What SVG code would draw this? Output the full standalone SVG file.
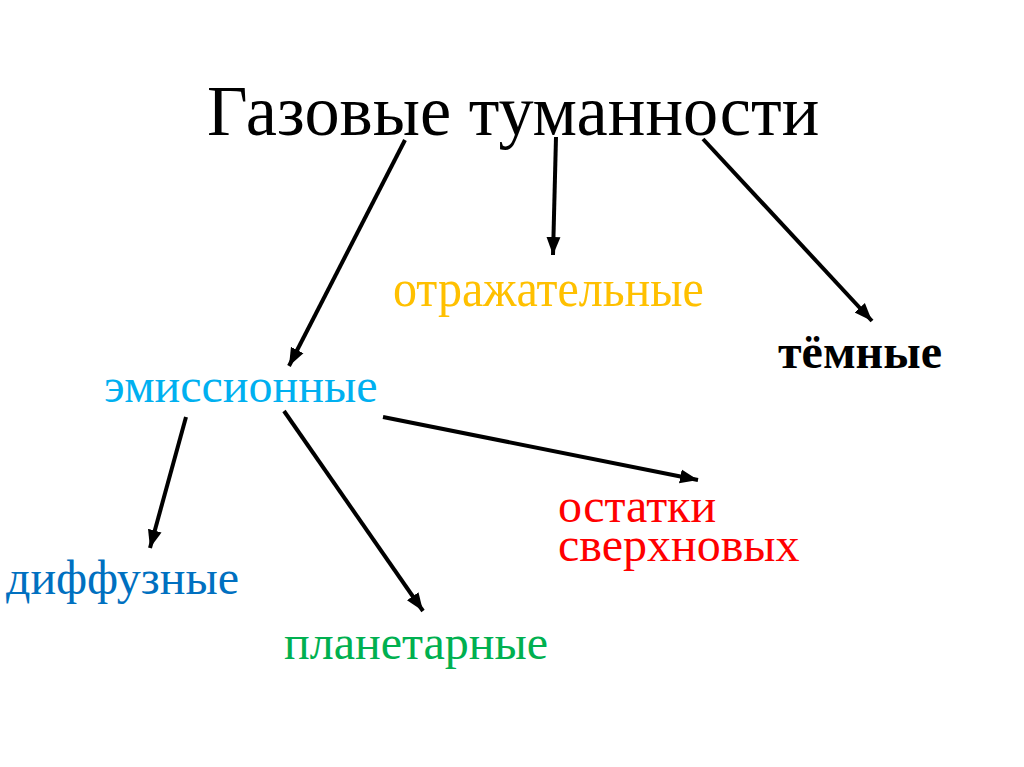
<svg xmlns="http://www.w3.org/2000/svg" width="1024" height="767" viewBox="0 0 1024 767">
<defs>
<style>
text{font-family:"Liberation Serif","Times New Roman",serif;}
.conn{stroke:#000;stroke-width:4;fill:none;marker-end:url(#ah);}
</style>
<marker id="ah" markerUnits="userSpaceOnUse" markerWidth="20" markerHeight="16" viewBox="0 0 20 16" refX="18" refY="8" orient="auto">
<path d="M0,1 L18,8 L0,15 Z" fill="#000"/>
</marker>
</defs>
<rect width="1024" height="767" fill="#fff"/>
<g id="connectors">
<line class="conn" x1="405" y1="140" x2="289" y2="366"/>
<line class="conn" x1="556" y1="137" x2="553" y2="255"/>
<line class="conn" x1="703" y1="139" x2="872" y2="321"/>
<line class="conn" x1="186" y1="417" x2="150" y2="548"/>
<line class="conn" x1="284" y1="411" x2="423" y2="611"/>
<line class="conn" x1="383" y1="417" x2="698" y2="480"/>
</g>
<g id="title"><text transform="translate(207,135) scale(0.976,1)" font-size="72" fill="#000">Газовые туманности</text></g>
<g id="reflective"><text transform="translate(393,306) scale(1,1.12)" font-size="48" fill="#FFC000">отражательные</text></g>
<g id="dark"><text x="778" y="368" font-size="48" font-weight="bold" fill="#000">тёмные</text></g>
<g id="emission"><text x="104" y="402" font-size="48" fill="#00B0F0">эмиссионные</text></g>
<g id="diffuse"><text x="6" y="594" font-size="48" fill="#0070C0">диффузные</text></g>
<g id="planetary"><text x="284" y="659" font-size="48" fill="#00B050">планетарные</text></g>
<g id="snr"><text font-size="48" fill="#FF0000"><tspan x="558" y="522">остатки</tspan><tspan x="558" y="561">сверхновых</tspan></text></g>
</svg>
